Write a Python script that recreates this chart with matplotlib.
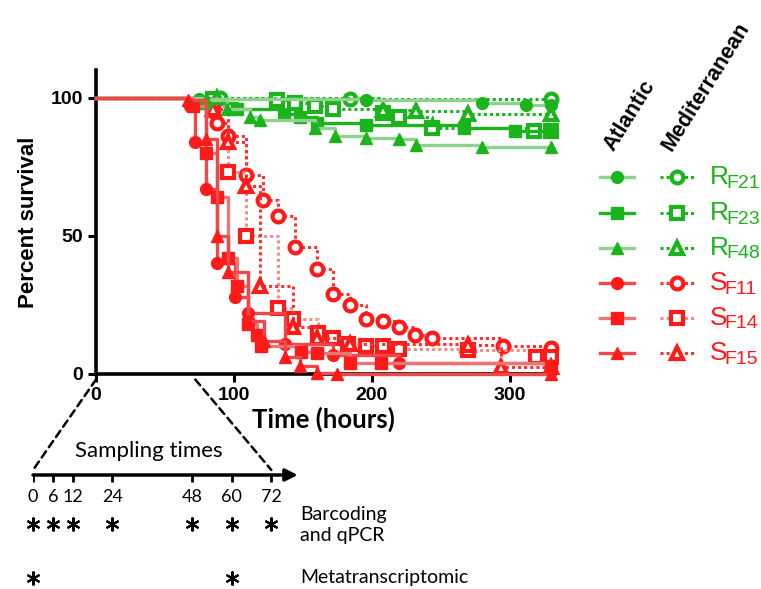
import matplotlib
matplotlib.use("Agg")
import matplotlib.pyplot as plt
from matplotlib.patches import ConnectionPatch

plt.rcParams['font.family'] = ['Liberation Sans', 'DejaVu Sans']

# survival curves: (time in hours, percent survival), first point is the start
rf21_atl_t = [0, 75, 196, 280, 312, 330]
rf21_atl_s = [100, 99.5, 99, 98, 97.5, 97.5]
rf23_atl_t = [0, 78, 102, 136, 148, 160, 196, 267, 304, 330]
rf23_atl_s = [100, 98, 96, 94, 93, 91, 90, 89, 88, 88]
rf48_atl_t = [0, 80, 95, 112, 119, 159, 173, 196, 220, 232, 280, 330]
rf48_atl_s = [100, 99, 96, 93, 92, 89, 86, 85.5, 85, 83, 82, 82]
sf11_atl_t = [0, 68, 72, 80, 88, 101, 110, 137, 172, 220, 330]
sf11_atl_s = [100, 97, 84, 67, 40, 28, 22, 11, 7, 4, 1]
sf14_atl_t = [0, 70, 80, 88, 96, 102, 110, 117, 120, 149, 160, 184, 207, 330]
sf14_atl_s = [100, 97, 80, 64, 42, 32, 18, 14, 10, 8, 7.5, 4, 4, 3]
sf15_atl_t = [0, 67, 80, 88, 96, 110, 122, 137, 148, 160, 175, 330]
sf15_atl_s = [100, 99, 85, 50, 37, 19, 12, 6, 3, 0.5, 0, 0]

rf21_med_t = [0, 90, 184, 330]
rf21_med_s = [100, 100, 99.5, 99.5]
rf23_med_t = [0, 85, 131, 144, 159, 172, 208, 220, 244, 318, 330]
rf23_med_s = [100, 99.5, 99, 98, 97, 96, 94.5, 93, 89, 88, 88]
rf48_med_t = [0, 88, 208, 232, 270, 330]
rf48_med_s = [100, 100, 95.5, 95, 94, 94]
sf11_med_t = [0, 85, 88, 96, 109, 121, 132, 144, 160, 172, 184, 196, 208, 220, 231, 244, 295, 330]
sf11_med_s = [100, 95, 91, 86, 72, 63, 57, 46, 38, 29, 25, 20, 19, 17, 14, 13, 10, 9.5]
sf14_med_t = [0, 85, 96, 109, 132, 143, 161, 172, 183, 196, 208, 220, 270, 319, 330]
sf14_med_s = [100, 97, 73, 50, 24, 20, 15, 13, 11, 10, 10, 9, 8.7, 6, 6]
sf15_med_t = [0, 85, 96, 109, 119, 143, 160, 184, 270, 294, 330]
sf15_med_s = [100, 96, 84, 68, 32, 17, 13, 11, 10.5, 2.5, 2.5]

strains = ['R', 'R', 'R', 'S', 'S', 'S']
subs = ['F21', 'F23', 'F48', 'F11', 'F14', 'F15']

sampling_h = [0, 6, 12, 24, 48, 60, 72]
barcoding_h = [0, 6, 12, 24, 48, 60, 72]
metatrans_h = [0, 60]

green = '#1cb41c'
red = '#ff1a1a'
atl_line = ['#8fd28f', green, '#8fd28f', '#f04848', '#e87878', '#f04848']
med_line = [green, green, green, '#ff3030', '#f08c8c', '#ff3030']
mcol = [green, green, green, red, red, red]
marks = ['o', 's', '^', 'o', 's', '^']

atl = [(rf21_atl_t, rf21_atl_s), (rf23_atl_t, rf23_atl_s), (rf48_atl_t, rf48_atl_s),
       (sf11_atl_t, sf11_atl_s), (sf14_atl_t, sf14_atl_s), (sf15_atl_t, sf15_atl_s)]
med = [(rf21_med_t, rf21_med_s), (rf23_med_t, rf23_med_s), (rf48_med_t, rf48_med_s),
       (sf11_med_t, sf11_med_s), (sf14_med_t, sf14_med_s), (sf15_med_t, sf15_med_s)]

fig = plt.figure(figsize=(7.61, 5.89), dpi=100)
ax = fig.add_axes([96/761, 1-374/589, 455/761, 304/589])

dots = (0, (1, 1))
for i in range(6):
    t, s = med[i]
    ax.plot(t, s, drawstyle='steps-post', color=med_line[i], lw=2.2, ls=dots,
            marker=marks[i], ms=8.5, mfc='white', mec=mcol[i], mew=3,
            markevery=slice(1, None), clip_on=False, zorder=3)
    t, s = atl[i]
    ax.plot(t, s, drawstyle='steps-post', color=atl_line[i], lw=2.4, ls='-',
            marker=marks[i], ms=8.5, mfc=mcol[i], mec=mcol[i], mew=1,
            markevery=slice(1, None), clip_on=False, zorder=4)

ax.set_xlim(0, 330)
ax.set_ylim(0, 110)
ax.set_xticks([0, 100, 200, 300])
ax.set_yticks([0, 50, 100])
for sp in ['top', 'right']:
    ax.spines[sp].set_visible(False)
for sp in ['left', 'bottom']:
    ax.spines[sp].set_linewidth(2.6)
ax.tick_params(width=2.2, length=6, labelsize=14)
for lab in ax.get_xticklabels() + ax.get_yticklabels():
    lab.set_fontweight('bold')
ax.set_ylabel('Percent survival', fontsize=16, fontweight='bold', labelpad=8)
ax.set_xlabel('Time (hours)', fontsize=18.5, fontweight='bold', family='Lato', labelpad=2)

# sampling time line
tax = fig.add_axes([33/761, 0, 80*3.31/761, 159/589])
tax.set_xlim(0, 80)
tax.set_ylim(589, 430)
tax.axis('off')
tax.annotate('', xy=(80, 475), xytext=(0, 475),
             arrowprops=dict(arrowstyle='-|>', lw=2.5, color='black', mutation_scale=18,
                             shrinkA=0, shrinkB=0))
tax.vlines(sampling_h, 475, 482, color='black', lw=2)
for h in sampling_h:
    tax.text(h, 497, str(h), ha='center', va='center', fontsize=13, family='Lato')
tax.plot(barcoding_h, [524] * len(barcoding_h), ls='none', marker=(6, 2, 0),
         ms=10, mew=1.5, color='black', clip_on=False)
tax.plot(metatrans_h, [578] * len(metatrans_h), ls='none', marker=(6, 2, 0),
         ms=10, mew=1.5, color='black', clip_on=False)
tax.text(35, 451, 'Sampling times', ha='center', va='center', fontsize=16, family='Lato')

for a, b in [(0, 0), (72, 72)]:
    con = ConnectionPatch(xyA=(a, -2), coordsA=ax.transData, xyB=(b, 470), coordsB=tax.transData,
                          ls=(0, (3, 2)), lw=1.8, color='black')
    fig.add_artist(con)

# overlay in pixel units for legend and side texts
lax = fig.add_axes([0, 0, 1, 1])
lax.set_xlim(0, 761)
lax.set_ylim(589, 0)
lax.axis('off')
lax.set_zorder(-1)

lax.text(300, 525, 'Barcoding\nand qPCR', ha='left', va='center', fontsize=14,
         family='Lato', linespacing=1.25)
lax.text(300, 578, 'Metatranscriptomic', ha='left', va='center', fontsize=14, family='Lato')

lax.text(613, 152, 'Atlantic', rotation=58, rotation_mode='anchor', ha='left', va='baseline',
         fontsize=15.5, fontweight='bold')
lax.text(672, 152, 'Mediterranean', rotation=58, rotation_mode='anchor', ha='left', va='baseline',
         fontsize=15.5, fontweight='bold')

rows = [177, 213, 248, 283, 318, 353]
for i, y in enumerate(rows):
    lax.plot([600, 634], [y, y], color=atl_line[i], lw=2.4)
    lax.plot([617], [y], marker=marks[i], ms=8.5, color=mcol[i], mec=mcol[i])
    lax.plot([660, 694], [y, y], color=med_line[i], lw=2.2, ls=dots)
    lax.plot([677], [y], marker=marks[i], ms=8.5, mfc='white', mec=mcol[i], mew=3)
    tt = lax.text(710, y, strains[i], ha='left', va='center', fontsize=19, color=mcol[i])
    lax.annotate(subs[i], xy=(0.85, 0.25), xycoords=tt, ha='left', va='center',
                 fontsize=14, color=mcol[i])

fig.savefig('out.png', dpi=100)
